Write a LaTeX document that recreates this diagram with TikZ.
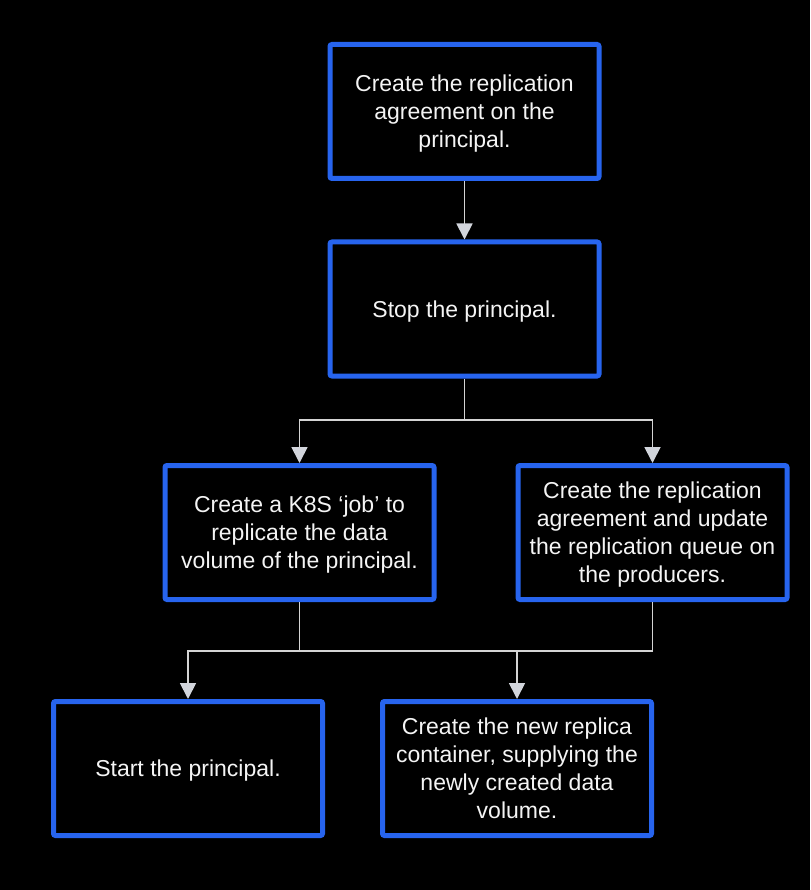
\documentclass[tikz,border=0pt]{standalone}
\usepackage{fontspec}
\setmainfont{Liberation Sans}
\usetikzlibrary{arrows.meta}
\definecolor{boxblue}{HTML}{2764EE}
\definecolor{linegray}{HTML}{D4D4D4}
\definecolor{tipgray}{HTML}{D2D5DC}
\definecolor{txt}{HTML}{F4F4F4}
\newcommand\lnstrut{\rule[-6pt]{0pt}{28pt}}
\tikzset{
  stepbox/.style={draw=boxblue, line width=5pt, rounded corners=2pt, fill=black,
    minimum width=269pt, minimum height=134pt, inner sep=0pt,
    text=txt, align=center, font=\fontsize{23pt}{28pt}\selectfont},
  conn/.style={draw=linegray, line width=1.8pt,
    -{Triangle[length=16pt, width=16pt, fill=tipgray, color=tipgray]}},
  plain/.style={draw=linegray, line width=1.8pt}
}
\begin{document}
\begin{tikzpicture}[x=1pt, y=-1pt]
\fill[black] (0,0) rectangle (810,890);
\useasboundingbox (0,0) rectangle (810,890);

\node[stepbox] (a) at (464.5,111.5) {\lnstrut Create the replication\\\lnstrut agreement on the\\\lnstrut principal.};
\node[stepbox] (b) at (464.5,309) {\lnstrut Stop the principal.};
\node[stepbox] (c) at (299.5,532.5) {\lnstrut Create a K8S ‘job’ to\\\lnstrut replicate the data\\\lnstrut volume of the principal.};
\node[stepbox] (d) at (652.5,532.5) {\lnstrut Create the replication\\\lnstrut agreement and update\\\lnstrut the replication queue on\\\lnstrut the producers.};
\node[stepbox] (e) at (188,768.5) {\lnstrut Start the principal.};
\node[stepbox] (f) at (517,768.5) {\lnstrut Create the new replica\\\lnstrut container, supplying the\\\lnstrut newly created data\\\lnstrut volume.};

\coordinate (j1) at (464.5,420);
\coordinate (j2) at (299.5,651);

\draw[conn] (a) -- (b);
\draw[plain] (b.south) -- (j1);
\draw[conn] (j1) -| (c.north);
\draw[conn] (j1) -| (d.north);
\draw[plain] (c.south) -- (j2);
\draw[plain] (d.south) |- (j2);
\draw[conn] (j2) -| (e.north);
\draw[conn] (j2) -| (f.north);
\end{tikzpicture}
\end{document}
